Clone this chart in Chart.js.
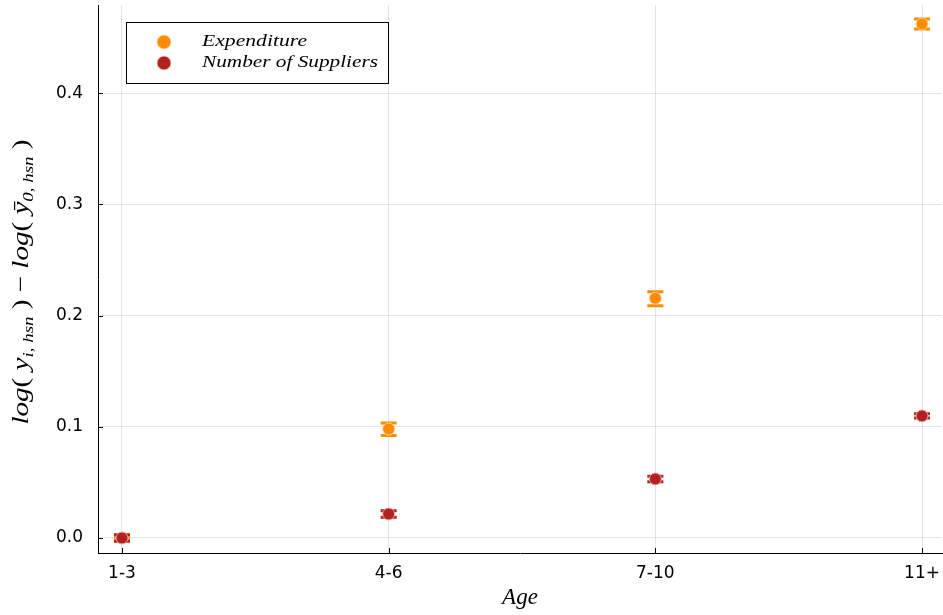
<!DOCTYPE html>
<html>
<head>
<meta charset="utf-8">
<script src="https://cdn.jsdelivr.net/npm/chart.js@4.4.1/dist/chart.umd.min.js"></script>
<style>
html,body{margin:0;padding:0;background:#fff;}
#wrap{width:943px;height:615px;position:relative;}
</style>
</head>
<body>
<div id="wrap"><canvas id="c" width="943" height="615"></canvas></div>
<script>
// ---- data ----
const categories = ["1-3", "4-6", "7-10", "11+"];
const categoryPositions = [1, 2, 3, 4];
const expenditure = [0.0, 0.098, 0.2156, 0.4622];
const expenditureLower = [-0.001, 0.0922, 0.2089, 0.4577];
const expenditureUpper = [0.001, 0.1034, 0.2215, 0.4667];
const suppliers = [0.0, 0.0216, 0.0531, 0.1098];
const suppliersLower = [-0.003, 0.0186, 0.0506, 0.1078];
const suppliersUpper = [0.003, 0.0246, 0.0556, 0.1118];
const yTicks = [0.0, 0.1, 0.2, 0.3, 0.4];
const seriesNames = ["Expenditure", "Number of Suppliers"];

const ORANGE = "rgb(255,140,0)";
const RED = "rgb(178,34,34)";

function pts(vals){ return vals.map((v,i)=>({x:categoryPositions[i], y:v})); }

const errorBarPlugin = {
  id: "errorBars",
  beforeDatasetDraw(chart, args){
    const ds = chart.data.datasets[args.index];
    if (!ds.errLow) return;
    const xs = chart.scales.x, ys = chart.scales.y;
    const ctx = chart.ctx;
    ctx.save();
    ctx.strokeStyle = ds.backgroundColor;
    ds.data.forEach((p,i)=>{
      const px = xs.getPixelForValue(p.x);
      const lo = ys.getPixelForValue(ds.errLow[i]);
      const hi = ys.getPixelForValue(ds.errHigh[i]);
      ctx.lineWidth = 1.5;
      ctx.beginPath(); ctx.moveTo(px, lo); ctx.lineTo(px, hi); ctx.stroke();
      ctx.lineWidth = 3;
      ctx.beginPath();
      ctx.moveTo(px-8, lo); ctx.lineTo(px+8, lo);
      ctx.moveTo(px-8, hi); ctx.lineTo(px+8, hi);
      ctx.stroke();
    });
    ctx.restore();
  }
};

const decorPlugin = {
  id: "decor",
  afterDraw(chart){
    const ctx = chart.ctx;
    const a = chart.chartArea;
    const xs = chart.scales.x, ys = chart.scales.y;
    ctx.save();
    // inward ticks
    ctx.strokeStyle = "#000"; ctx.lineWidth = 1;
    ctx.beginPath();
    ys.ticks.forEach(t=>{ const py = Math.round(ys.getPixelForValue(t.value))+0.5; ctx.moveTo(a.left, py); ctx.lineTo(a.left+5, py); });
    xs.ticks.forEach(t=>{ const px = Math.round(xs.getPixelForValue(t.value))+0.5; ctx.moveTo(px, a.bottom); ctx.lineTo(px, a.bottom-5); });
    ctx.stroke();

    // legend
    const lx=126.5, ly=22.5, lw=262, lh=61;
    ctx.fillStyle="#fff"; ctx.fillRect(lx,ly,lw,lh);
    ctx.strokeStyle="#000"; ctx.lineWidth=1; ctx.strokeRect(lx,ly,lw,lh);
    const cols=[ORANGE,RED];
    const rows=[42,63];
    const targets=[105,176];
    ctx.textBaseline="middle"; ctx.textAlign="left";
    seriesNames.forEach((n,i)=>{
      ctx.beginPath(); ctx.arc(164, rows[i], 7, 0, Math.PI*2);
      ctx.fillStyle=cols[i]; ctx.fill();
      ctx.strokeStyle="rgba(255,220,190,0.8)"; ctx.lineWidth=1; ctx.stroke();
      ctx.fillStyle="#000";
      ctx.font="italic 17px 'Liberation Serif'";
      const w = ctx.measureText(n).width;
      ctx.save();
      ctx.translate(202, rows[i]);
      ctx.scale(targets[i]/w, 1);
      ctx.fillText(n, 0, 0);
      ctx.restore();
    });

    // x axis title
    ctx.fillStyle="#000";
    ctx.font="italic 23px 'Liberation Serif'";
    ctx.textAlign="center"; ctx.textBaseline="middle";
    ctx.fillText("Age", (a.left+a.right)/2, 598);

    // y axis title with subscripts
    const main="italic 23px 'Liberation Serif'", up="23px 'Liberation Serif'", sub="italic 15px 'Liberation Serif'";
    const runs=[
      {t:"log", f:main, dy:0},{t:"( ", f:up, dy:0},{t:"y", f:main, dy:0},{t:"i, hsn", f:sub, dy:7},{t:" )", f:up, dy:0},
      {t:" − ", f:up, dy:0},
      {t:"log", f:main, dy:0},{t:"( ", f:up, dy:0},{t:"ȳ", f:main, dy:0},{t:"0, hsn", f:sub, dy:7},{t:" )", f:up, dy:0}
    ];
    let total=0;
    runs.forEach(r=>{ ctx.font=r.f; r.w=ctx.measureText(r.t).width; total+=r.w; });
    const target=285;
    ctx.save();
    ctx.translate(22, 282);
    ctx.rotate(-Math.PI/2);
    ctx.scale(target/total, 1);
    ctx.textAlign="left"; ctx.textBaseline="middle";
    let x=-total/2;
    runs.forEach(r=>{ ctx.font=r.f; ctx.fillText(r.t, x, r.dy); x+=r.w; });
    ctx.restore();
    ctx.restore();
  }
};

new Chart(document.getElementById("c"), {
  type: "scatter",
  data: {
    datasets: [
      { label: seriesNames[0], data: pts(expenditure), errLow: expenditureLower, errHigh: expenditureUpper,
        backgroundColor: ORANGE, borderColor: "rgba(255,215,170,0.9)", borderWidth: 1, pointRadius: 6, order: 1 },
      { label: seriesNames[1], data: pts(suppliers), errLow: suppliersLower, errHigh: suppliersUpper,
        backgroundColor: RED, borderColor: "rgba(240,180,170,0.9)", borderWidth: 1, pointRadius: 6, order: 0 }
    ]
  },
  options: {
    responsive: false,
    animation: false,
    layout: { autoPadding: false, padding: { top: 5, right: 1, left: 0, bottom: 0 } },
    plugins: { legend: { display: false }, tooltip: { enabled: false } },
    scales: {
      x: {
        type: "linear", min: 0.91, max: 4.075,
        afterBuildTicks(s){ s.ticks = categoryPositions.map(v=>({value:v})); },
        afterFit(s){ s.height = 62; s.paddingLeft = 0; s.paddingRight = 0; s.paddingTop = 0; s.paddingBottom = 0; },
        ticks: { callback: (v)=> categories[categoryPositions.indexOf(v)] ?? "", color: "#000",
                 font: { family: "DejaVu Sans", size: 17 }, padding: 10, maxRotation: 0, autoSkip: false },
        grid: { color: "rgba(0,0,0,0.1)", drawTicks: false },
        border: { display: true, color: "#000", width: 1 }
      },
      y: {
        type: "linear", min: -0.0135, max: 0.4793,
        afterBuildTicks(s){ s.ticks = yTicks.map(v=>({value:v})); },
        afterFit(s){ s.width = 98; s.paddingLeft = 0; s.paddingRight = 0; s.paddingTop = 0; s.paddingBottom = 0; },
        ticks: { callback: (v)=> v.toFixed(1), color: "#000", font: { family: "DejaVu Sans", size: 17 }, padding: 15 },
        grid: { color: "rgba(0,0,0,0.1)", drawTicks: false },
        border: { display: true, color: "#000", width: 1 }
      }
    }
  },
  plugins: [errorBarPlugin, decorPlugin]
});
</script>
</body>
</html>
